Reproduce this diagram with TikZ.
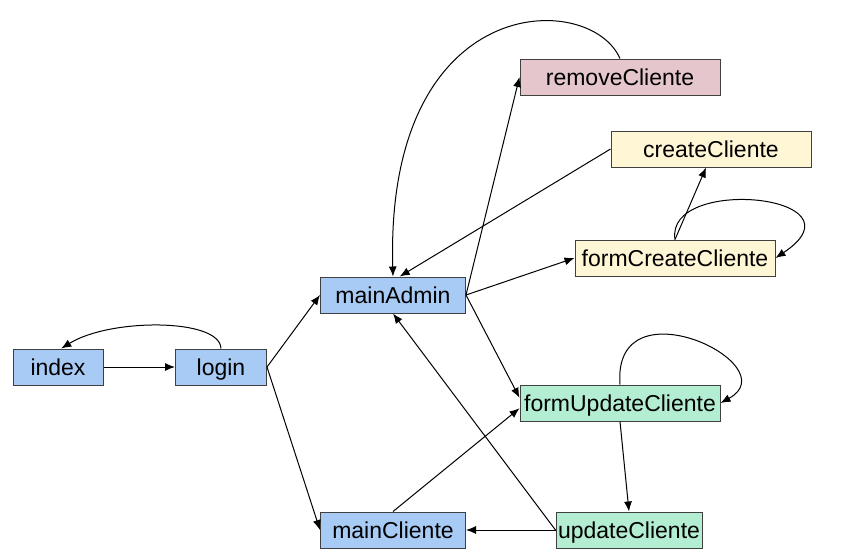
\documentclass[tikz,border=0pt]{standalone}
\usepackage{fontspec}
\setmainfont{Liberation Sans}
\usetikzlibrary{arrows.meta}

\definecolor{adminblue}{HTML}{A8CBF5}
\definecolor{removepink}{HTML}{E5C6CC}
\definecolor{createyellow}{HTML}{FFF6D6}
\definecolor{updategreen}{HTML}{B3EDD2}

\begin{document}
\begin{tikzpicture}[x=0.5pt,y=-0.5pt,
  page/.style={draw=black!75,line width=0.5pt,minimum height=18pt,inner sep=0pt,
    text height=8.8pt,text depth=0pt,font=\fontsize{11.5}{13}\selectfont},
  flow/.style={-{Latex[length=5pt,width=4pt]},line width=0.5pt}
]
  \useasboundingbox (0,0) rectangle (843,554);
  \node[page,fill=adminblue,minimum width=45pt] (index) at (58,367) {index};
  \node[page,fill=adminblue,minimum width=45.5pt] (login) at (221,367) {login};
  \node[page,fill=adminblue,minimum width=72.5pt] (mainAdmin) at (393,295) {mainAdmin};
  \node[page,fill=adminblue,minimum width=72.5pt] (mainCliente) at (393,530) {mainCliente};
  \node[page,fill=removepink,minimum width=100pt] (removeCliente) at (620,77) {removeCliente};
  \node[page,fill=createyellow,minimum width=100pt] (createCliente) at (711,149) {createCliente};
  \node[page,fill=createyellow,minimum width=100pt] (formCreateCliente) at (675,258) {formCreateCliente};
  \node[page,fill=updategreen,minimum width=100pt] (formUpdateCliente) at (620,403) {formUpdateCliente};
  \node[page,fill=updategreen,minimum width=73pt] (updateCliente) at (629,530) {updateCliente};
  % login
  \draw[flow] (index) -- (login);
  \draw[flow] (login.north) .. controls (220,318) and (110,318) .. (index.80);
  \draw[flow] (login.east) -- (mainAdmin.west);
  \draw[flow] (login.east) -- (mainCliente.west);
  % admin
  \draw[flow] (mainAdmin.east) -- (removeCliente.west);
  \draw[flow] (removeCliente.north) .. controls (590,-10) and (385,-10) .. (mainAdmin.north);
  \draw[flow] (createCliente.west) -- (mainAdmin.70);
  \draw[flow] (mainAdmin.east) -- (formCreateCliente.west);
  \draw[flow] (formCreateCliente.north) -- (createCliente.-105);
  \draw[flow] (formCreateCliente.north) .. controls (665,175) and (870,195) .. (formCreateCliente.east);
  \draw[flow] (mainAdmin.east) -- (formUpdateCliente.177);
  % cliente
  \draw[flow] (mainCliente.north) -- (formUpdateCliente.183);
  \draw[flow] (formUpdateCliente.north) .. controls (612,280) and (790,365) .. (formUpdateCliente.east);
  \draw[flow] (formUpdateCliente.south) -- (updateCliente.north);
  \draw[flow] (updateCliente.west) -- (mainAdmin.south);
  \draw[flow] (updateCliente.west) -- (mainCliente.east);
\end{tikzpicture}
\end{document}
